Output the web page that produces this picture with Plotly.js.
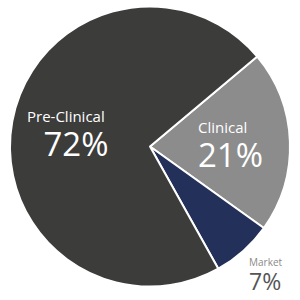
<!DOCTYPE html>
<html><head><meta charset="utf-8">
<script src="https://cdn.plot.ly/plotly-3.0.1.min.js"></script>
<style>html,body{margin:0;padding:0;background:#fff}#c{width:300px;height:300px}</style>
</head><body><div id="c"></div>
<script>
var labels = ["Clinical", "Market", "Pre-Clinical"];
var values = [21, 7, 72];
var colors = ["#8c8c8c", "#23315a", "#3c3c3b"];

// text block placement (left edge, vertical middle, in paper pixels) and styling, per slice
var textPos = [[196, 147], [247, 276], [25, 136]];
var lineSize = [26, 18.5, 26];
var labelSize = [15, 10, 15];
var valueSize = [33, 23, 33];
var valueIndent = ["", "", "\u2002"];
var labelColor = ["#ffffff", "#8a8a8a", "#ffffff"];
var valueColor = ["#ffffff", "#555555", "#ffffff"];

var W = 300, H = 300;
var annotations = labels.map(function(l, i){
  return {
    xref: "paper", yref: "paper", x: textPos[i][0] / W, y: 1 - textPos[i][1] / H,
    xanchor: "left", yanchor: "middle", align: "left", showarrow: false,
    text: "<span style='font-size:" + labelSize[i] + "px;color:" + labelColor[i] + "'>" + l + "</span><br>" +
          "<span style='font-size:" + valueSize[i] + "px;color:" + valueColor[i] + "'>" + valueIndent[i] + values[i] + "%</span>",
    font: {family: "Open Sans, sans-serif", size: lineSize[i], color: valueColor[i]}
  };
});

var trace = {
  type: "pie",
  labels: labels,
  values: values,
  sort: false,
  direction: "clockwise",
  rotation: 50,
  marker: {colors: colors, line: {color: "#ffffff", width: 2}},
  textinfo: "none",
  hoverinfo: "none",
  domain: {x: [0.0333, 0.9667], y: [0.0433, 0.98]}
};

Plotly.newPlot("c", [trace], {
  width: W, height: H,
  margin: {l: 0, r: 0, t: 0, b: 0},
  showlegend: false,
  paper_bgcolor: "#ffffff",
  annotations: annotations
}, {staticPlot: true});
</script></body></html>
